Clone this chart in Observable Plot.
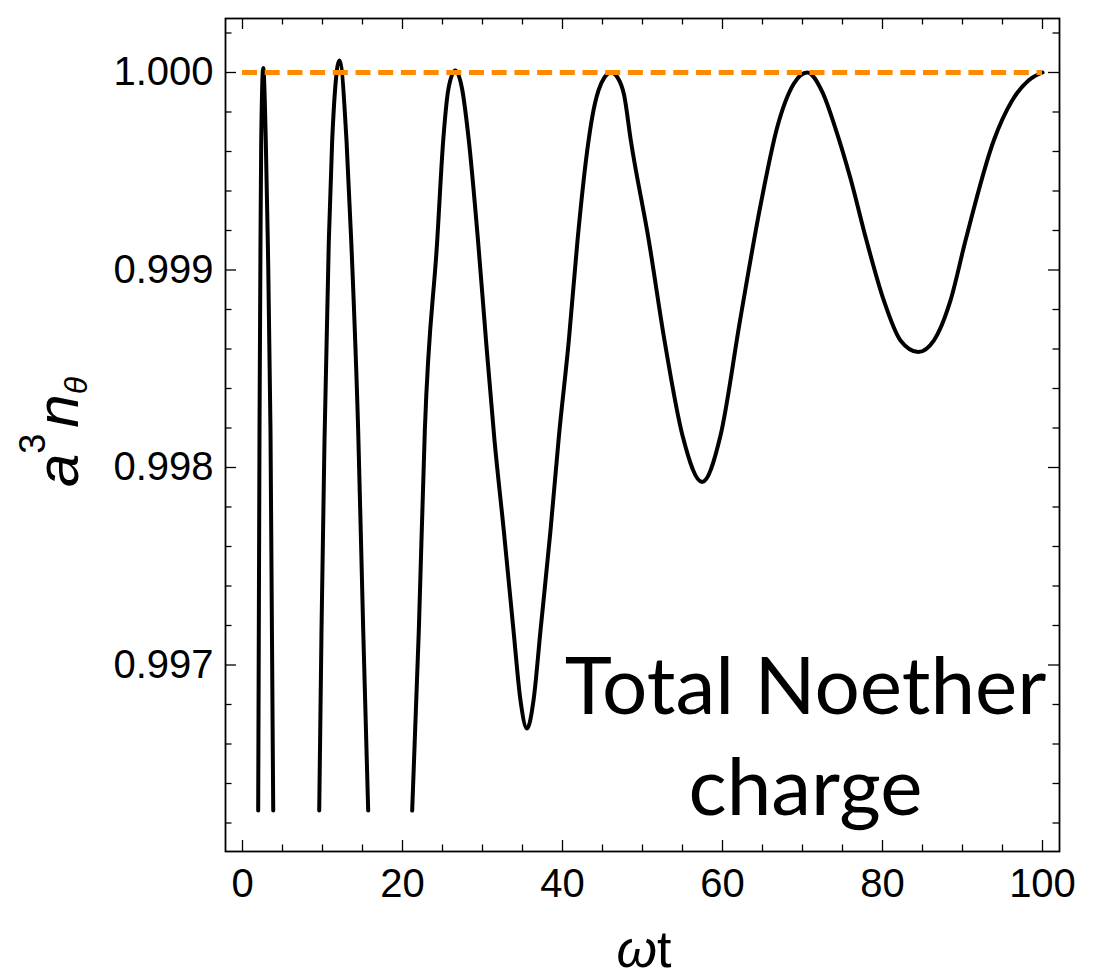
<!DOCTYPE html>
<html>
<head>
<meta charset="utf-8">
<script src="https://cdn.jsdelivr.net/npm/d3@7"></script>
<script src="https://cdn.jsdelivr.net/npm/@observablehq/plot@0.6"></script>
<style>
  html, body { margin: 0; padding: 0; background: #fff; }
</style>
</head>
<body>
<div id="chart"></div>
<script>
// ---- data (null = curve leaves the plot range) ----
const omegaT = [
  1.96, 2.125, 2.25, 2.34, 2.59, 2.91, 3.16, 3.5, 3.84, null,
  9.59, 9.875, 10.25, 10.79, 11.21, 12.125, 13.0, 13.59, 14.46, 15.09, 15.71, null,
  21.21, 22.04, 22.79, 24.34, 25.09, 25.75, 26.59, 27.44, 28.29, 29.44, 30.44, 31.5, 32.66, 33.875,
  34.75, 35.56, 36.375, 37.25, 38.5, 39.56, 40.79, 41.875, 43.09, 43.75, 44.5, 45.25, 46.09,
  46.875, 47.71, 48.54, 50.79, 52.75, 55.0, 57.46, 59.75, 62.19, 64.75, 66.84, 68.91, 70.59,
  72.5, 74.125, 76.0, 78.0, 80.16, 82.25, 84.46, 86.41, 88.5, 90.375, 93.91, 96.21, 98.25, 100
];
const charge = [
  0.996263, 0.998187, 0.999149, 0.999656, 1.000023, 0.999656, 0.999149, 0.998187, 0.996263, null,
  0.996263, 0.997175, 0.998137, 0.999149, 0.999656, 1.000061, 0.999656, 0.999149, 0.998187, 0.997175, 0.996263, null,
  0.996263, 0.997175, 0.998187, 0.999149, 0.999656, 0.999919, 1.000010, 0.999919, 0.999656, 0.999149, 0.998643, 0.998137, 0.997681, 0.997175,
  0.996820, 0.996678, 0.996820, 0.997175, 0.997681, 0.998162, 0.998643, 0.999149, 0.999605, 0.999782, 0.999909, 0.999975, 1.000000,
  0.999975, 0.999884, 0.999656, 0.999149, 0.998643, 0.998162, 0.997927, 0.998162, 0.998744, 0.999327, 0.999723, 0.999943, 1.000000,
  0.999899, 0.999716, 0.999463, 0.999149, 0.998846, 0.998643, 0.998585, 0.998643, 0.998846, 0.999149, 0.999656, 0.999858, 0.999960, 1.000000
];
const refLevel = [1.0];
const refStart = 0;
const refEnd = 100;

const xDomain = [-2.125, 102.125];
const yDomain = [0.9960557, 1.0002734];
const xMajorTicks = [0, 20, 40, 60, 80, 100];
const xMinorTicks = [5, 10, 15, 25, 30, 35, 45, 50, 55, 65, 70, 75, 85, 90, 95];
const yMajorTicks = [0.997, 0.998, 0.999, 1.000];
const yMinorTicks = [0.9962, 0.9964, 0.9966, 0.9968, 0.9972, 0.9974, 0.9976, 0.9978,
  0.9982, 0.9984, 0.9986, 0.9988, 0.9992, 0.9994, 0.9996, 0.9998, 1.0002];

const noteLines = ["Total Noether", "charge"];
const noteT = [70.375, 70.375];
const noteV = [0.996754, 0.996238];

// ---- layout ----
const W = 1093, H = 979;
const mT = 18, mR = 34, mB = 128, mL = 225;
const frameW = W - mL - mR, frameH = H - mT - mB;
const major = 11, minor = 6.5;
const tickStyle = {stroke: "black", strokeWidth: 1.3};

const idx = omegaT.map((_, i) => i);

const chart = Plot.plot({
  width: W, height: H,
  marginTop: mT, marginRight: mR, marginBottom: mB, marginLeft: mL,
  style: {fontFamily: "'Liberation Sans', Arial, sans-serif", fontSize: "40px", background: "white", color: "black", overflow: "visible"},
  x: {domain: xDomain},
  y: {domain: yDomain},
  marks: [
    // inward ticks on all four sides
    Plot.ruleX(xMajorTicks, {...tickStyle, insetTop: frameH - major}),
    Plot.ruleX(xMinorTicks, {...tickStyle, insetTop: frameH - minor}),
    Plot.ruleX(xMajorTicks, {...tickStyle, insetBottom: frameH - major}),
    Plot.ruleX(xMinorTicks, {...tickStyle, insetBottom: frameH - minor}),
    Plot.ruleY(yMajorTicks, {...tickStyle, insetRight: frameW - major}),
    Plot.ruleY(yMinorTicks, {...tickStyle, insetRight: frameW - minor}),
    Plot.ruleY(yMajorTicks, {...tickStyle, insetLeft: frameW - major}),
    Plot.ruleY(yMinorTicks, {...tickStyle, insetLeft: frameW - minor}),
    Plot.axisX({ticks: xMajorTicks, tickSize: 0, tickPadding: 17, label: null, tickFormat: d => String(d)}),
    Plot.axisY({ticks: yMajorTicks, tickSize: 0, tickPadding: 12, label: null, tickFormat: d3.format(".3f")}),
    Plot.line(idx, {x: omegaT, y: charge, stroke: "black", strokeWidth: 4, curve: "monotone-x"}),
    Plot.ruleY(refLevel, {x1: refStart, x2: refEnd, stroke: "#ff8a00", strokeWidth: 5, strokeDasharray: "15,7.7"}),
    Plot.text(noteLines, {x: noteT, y: noteV, text: d => d, fontFamily: "Lato, 'Open Sans', sans-serif",
      fontSize: 80, lineAnchor: "bottom", textAnchor: "middle", fill: "black"}),
    Plot.frame({stroke: "black", strokeWidth: 1.8})
  ]
});

document.getElementById("chart").appendChild(chart);

// axis titles with italic math parts
const svg = d3.select(chart);
const yl = svg.append("text")
  .attr("transform", "translate(78,432) rotate(-90)")
  .attr("text-anchor", "middle")
  .attr("font-family", "'Liberation Sans', Arial, sans-serif")
  .attr("font-size", 60)
  .attr("fill", "black");
yl.append("tspan").attr("font-style", "italic").text("a");
yl.append("tspan").attr("font-size", 36).attr("dy", -33).text("3");
yl.append("tspan").attr("font-style", "italic").attr("dy", 33).attr("dx", 6).text("n");
yl.append("tspan").attr("font-style", "italic").attr("font-size", 32).attr("dy", 9).text("θ");

const xl = svg.append("text")
  .attr("x", 644).attr("y", 967)
  .attr("text-anchor", "middle")
  .attr("font-family", "'Liberation Sans', Arial, sans-serif")
  .attr("font-size", 52)
  .attr("fill", "black");
xl.append("tspan").attr("font-style", "italic").text("ω");
xl.append("tspan").text("t");
</script>
</body>
</html>
